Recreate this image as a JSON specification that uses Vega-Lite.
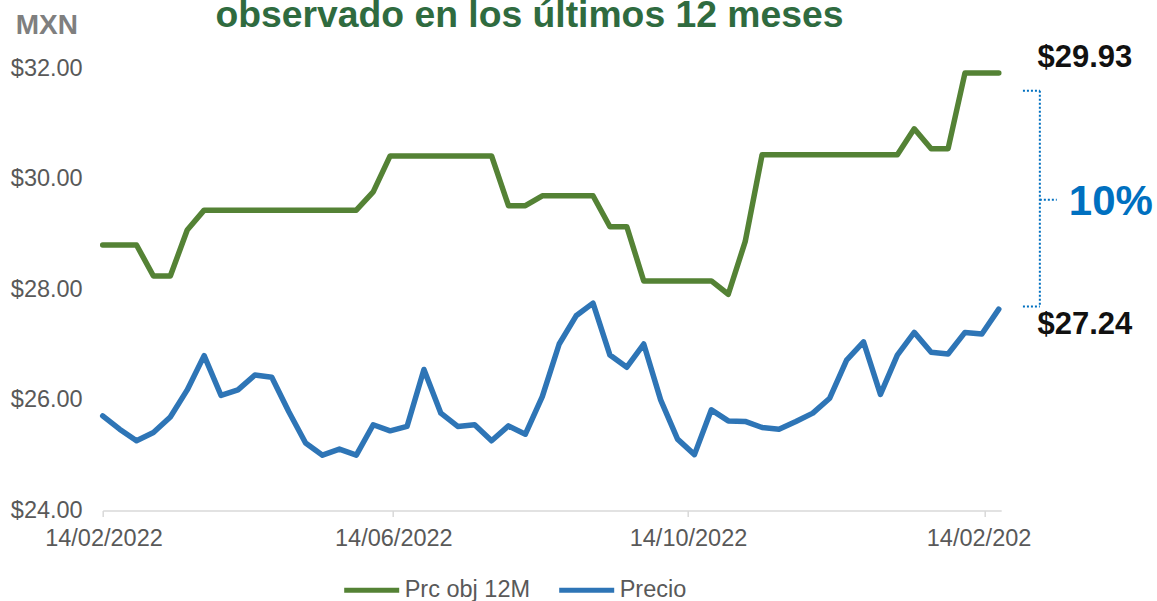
{
  "$schema": "https://vega.github.io/schema/vega-lite/v6.json",
  "autosize": {"type": "none"},
  "width": 898.5,
  "height": 442.5,
  "padding": {"left": 102.7, "top": 68, "right": 155.8, "bottom": 90.5},
  "background": "#ffffff",
  "config": {
    "font": "Liberation Sans",
    "view": {"stroke": null}
  },
  "title": {
    "text": "observado en los últimos 12 meses",
    "fontSize": 37.3,
    "fontWeight": "bold",
    "color": "#2F6B3F",
    "anchor": "middle",
    "frame": "group",
    "baseline": "bottom",
    "dx": -22.5,
    "offset": -61
  },
  "datasets": {
    "series": [
      {"d": "2022-02-14", "Prc obj 12M": 28.80, "Precio": 25.71},
      {"d": "2022-02-21", "Prc obj 12M": 28.80, "Precio": 25.47},
      {"d": "2022-02-28", "Prc obj 12M": 28.80, "Precio": 25.26},
      {"d": "2022-03-07", "Prc obj 12M": 28.24, "Precio": 25.41},
      {"d": "2022-03-14", "Prc obj 12M": 28.24, "Precio": 25.69},
      {"d": "2022-03-21", "Prc obj 12M": 29.07, "Precio": 26.18},
      {"d": "2022-03-28", "Prc obj 12M": 29.43, "Precio": 26.80},
      {"d": "2022-04-04", "Prc obj 12M": 29.43, "Precio": 26.08},
      {"d": "2022-04-11", "Prc obj 12M": 29.43, "Precio": 26.18},
      {"d": "2022-04-18", "Prc obj 12M": 29.43, "Precio": 26.45},
      {"d": "2022-04-25", "Prc obj 12M": 29.43, "Precio": 26.41},
      {"d": "2022-05-02", "Prc obj 12M": 29.43, "Precio": 25.79},
      {"d": "2022-05-09", "Prc obj 12M": 29.43, "Precio": 25.22},
      {"d": "2022-05-16", "Prc obj 12M": 29.43, "Precio": 25.00},
      {"d": "2022-05-23", "Prc obj 12M": 29.43, "Precio": 25.11},
      {"d": "2022-05-30", "Prc obj 12M": 29.43, "Precio": 25.00},
      {"d": "2022-06-06", "Prc obj 12M": 29.76, "Precio": 25.55},
      {"d": "2022-06-13", "Prc obj 12M": 30.41, "Precio": 25.44},
      {"d": "2022-06-20", "Prc obj 12M": 30.41, "Precio": 25.52},
      {"d": "2022-06-27", "Prc obj 12M": 30.41, "Precio": 26.55},
      {"d": "2022-07-04", "Prc obj 12M": 30.41, "Precio": 25.76},
      {"d": "2022-07-11", "Prc obj 12M": 30.41, "Precio": 25.52},
      {"d": "2022-07-18", "Prc obj 12M": 30.41, "Precio": 25.55},
      {"d": "2022-07-25", "Prc obj 12M": 30.41, "Precio": 25.26},
      {"d": "2022-08-01", "Prc obj 12M": 29.51, "Precio": 25.53},
      {"d": "2022-08-08", "Prc obj 12M": 29.51, "Precio": 25.38},
      {"d": "2022-08-15", "Prc obj 12M": 29.69, "Precio": 26.06},
      {"d": "2022-08-22", "Prc obj 12M": 29.69, "Precio": 27.01},
      {"d": "2022-08-29", "Prc obj 12M": 29.69, "Precio": 27.52},
      {"d": "2022-09-05", "Prc obj 12M": 29.69, "Precio": 27.75},
      {"d": "2022-09-12", "Prc obj 12M": 29.13, "Precio": 26.81},
      {"d": "2022-09-19", "Prc obj 12M": 29.13, "Precio": 26.59},
      {"d": "2022-09-26", "Prc obj 12M": 28.15, "Precio": 27.01},
      {"d": "2022-10-03", "Prc obj 12M": 28.15, "Precio": 26.00},
      {"d": "2022-10-10", "Prc obj 12M": 28.15, "Precio": 25.29},
      {"d": "2022-10-17", "Prc obj 12M": 28.15, "Precio": 25.01},
      {"d": "2022-10-24", "Prc obj 12M": 28.15, "Precio": 25.82},
      {"d": "2022-10-31", "Prc obj 12M": 27.91, "Precio": 25.62},
      {"d": "2022-11-07", "Prc obj 12M": 28.86, "Precio": 25.61},
      {"d": "2022-11-14", "Prc obj 12M": 30.43, "Precio": 25.50},
      {"d": "2022-11-21", "Prc obj 12M": 30.43, "Precio": 25.47},
      {"d": "2022-11-28", "Prc obj 12M": 30.43, "Precio": 25.61},
      {"d": "2022-12-05", "Prc obj 12M": 30.43, "Precio": 25.76},
      {"d": "2022-12-12", "Prc obj 12M": 30.43, "Precio": 26.03},
      {"d": "2022-12-19", "Prc obj 12M": 30.43, "Precio": 26.72},
      {"d": "2022-12-26", "Prc obj 12M": 30.43, "Precio": 27.05},
      {"d": "2023-01-02", "Prc obj 12M": 30.43, "Precio": 26.10},
      {"d": "2023-01-09", "Prc obj 12M": 30.43, "Precio": 26.81},
      {"d": "2023-01-16", "Prc obj 12M": 30.90, "Precio": 27.22},
      {"d": "2023-01-23", "Prc obj 12M": 30.54, "Precio": 26.86},
      {"d": "2023-01-30", "Prc obj 12M": 30.54, "Precio": 26.83},
      {"d": "2023-02-06", "Prc obj 12M": 31.91, "Precio": 27.22},
      {"d": "2023-02-13", "Prc obj 12M": 31.91, "Precio": 27.19},
      {"d": "2023-02-20", "Prc obj 12M": 31.91, "Precio": 27.64}
    ],
    "labels": [
      {"d": "2023-03-08", "v": 32.18, "t": "$29.93"},
      {"d": "2023-03-08", "v": 27.35, "t": "$27.24"}
    ],
    "pct": [
      {"d": "2023-03-21", "v": 29.58, "t": "10%"}
    ],
    "bracket": [
      {"d": "2023-03-02", "d2": "2023-03-09", "v": 31.59, "v2": 31.59},
      {"d": "2023-03-09", "d2": "2023-03-09", "v": 31.59, "v2": 27.69},
      {"d": "2023-03-02", "d2": "2023-03-09", "v": 27.69, "v2": 27.69},
      {"d": "2023-03-09", "d2": "2023-03-16", "v": 29.62, "v2": 29.62}
    ]
  },
  "layer": [
    {
      "data": {"name": "series"},
      "transform": [{"fold": ["Prc obj 12M", "Precio"], "as": ["serie", "valor"]}],
      "mark": {"type": "line", "strokeWidth": 5.5, "strokeCap": "round", "strokeJoin": "round"},
      "encoding": {
        "x": {
          "field": "d",
          "type": "temporal",
          "scale": {
            "type": "utc",
            "domain": [
              {"year": 2022, "month": 2, "date": 14, "utc": true},
              {"year": 2023, "month": 2, "date": 21, "utc": true}
            ],
            "nice": false
          },
          "axis": {
            "title": null,
            "values": [
              {"year": 2022, "month": 2, "date": 14, "utc": true},
              {"year": 2022, "month": 6, "date": 14, "utc": true},
              {"year": 2022, "month": 10, "date": 14, "utc": true},
              {"year": 2023, "month": 2, "date": 14, "utc": true}
            ],
            "labelExpr": "utcFormat(datum.value, '%d/%m/%Y') == '14/02/2023' ? '14/02/202' : utcFormat(datum.value, '%d/%m/%Y')",
            "labelAlign": "left",
            "labelOffset": -58,
            "labelFlush": false,
            "labelOverlap": false,
            "labelBound": false,
            "labelColor": "#595959",
            "labelFontSize": 23.5,
            "labelPadding": 10,
            "domainColor": "#d9d9d9",
            "domainWidth": 1.5,
            "tickColor": "#d9d9d9",
            "tickWidth": 1.5,
            "tickSize": 6,
            "grid": false
          }
        },
        "y": {
          "field": "valor",
          "type": "quantitative",
          "scale": {"domain": [24, 32], "nice": false, "zero": false},
          "axis": {
            "values": [24, 26, 28, 30, 32],
            "format": "$.2f",
            "domain": false,
            "ticks": false,
            "grid": false,
            "labelColor": "#595959",
            "labelFontSize": 23.5,
            "labelPadding": 20.5,
            "title": "MXN",
            "titleAngle": 0,
            "titleX": -87.5,
            "titleY": -34.7,
            "titleAlign": "left",
            "titleBaseline": "alphabetic",
            "titleFontSize": 28,
            "titleFontWeight": "bold",
            "titleColor": "#7f7f7f"
          }
        },
        "color": {
          "field": "serie",
          "type": "nominal",
          "scale": {"domain": ["Prc obj 12M", "Precio"], "range": ["#548235", "#2E75B6"]},
          "legend": {
            "title": null,
            "orient": "none",
            "direction": "horizontal",
            "legendX": 239,
            "legendY": 492,
            "symbolType": "stroke",
            "symbolSize": 3025,
            "symbolStrokeWidth": 5,
            "labelFontSize": 23.5,
            "labelColor": "#595959",
            "labelOffset": 3,
            "columnPadding": 18
          }
        }
      }
    },
    {
      "data": {"name": "bracket"},
      "mark": {"type": "rule", "color": "#0070C0", "strokeWidth": 2, "strokeDash": [2, 2]},
      "encoding": {
        "x": {"field": "d", "type": "temporal"},
        "x2": {"field": "d2"},
        "y": {"field": "v", "type": "quantitative"},
        "y2": {"field": "v2"}
      }
    },
    {
      "data": {"name": "labels"},
      "mark": {"type": "text", "align": "left", "baseline": "middle", "fontSize": 31, "fontWeight": "bold", "color": "#111111"},
      "encoding": {
        "x": {"field": "d", "type": "temporal"},
        "y": {"field": "v", "type": "quantitative"},
        "text": {"field": "t"}
      }
    },
    {
      "data": {"name": "pct"},
      "mark": {"type": "text", "align": "left", "baseline": "middle", "fontSize": 42, "fontWeight": "bold", "color": "#0070C0"},
      "encoding": {
        "x": {"field": "d", "type": "temporal"},
        "y": {"field": "v", "type": "quantitative"},
        "text": {"field": "t"}
      }
    }
  ]
}
